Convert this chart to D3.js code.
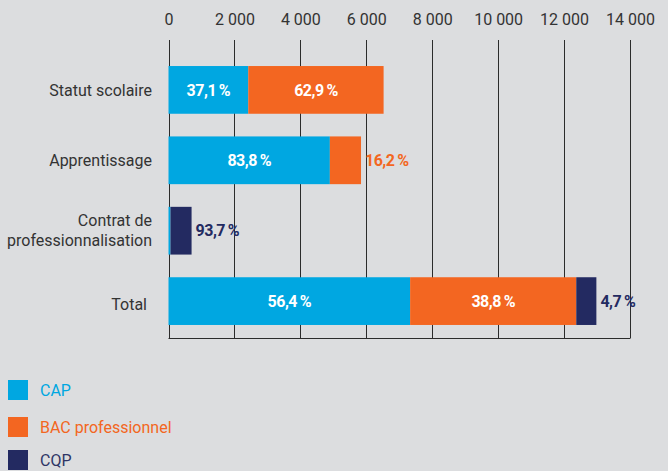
<!DOCTYPE html>
<html><head><meta charset="utf-8">
<script src="https://cdn.jsdelivr.net/npm/d3@7"></script>
<style>
html,body{margin:0;padding:0;background:#dcdddf;}
svg{display:block;font-family:Roboto,"Noto Sans",sans-serif;}
</style></head>
<body>
<svg id="c" width="668" height="471"></svg>
<script>
const categories = ["Statut scolaire", "Apprentissage", "Contrat de\nprofessionnalisation", "Total"];
const seriesNames = ["CAP", "BAC professionnel", "CQP"];
const capValues = [2420, 4895, 60, 7330];
const bacValues = [4105, 945, 0, 5040];
const cqpValues = [0, 0, 640, 610];
const capLabels = ["37,1 %", "83,8 %", "", "56,4 %"];
const bacLabels = ["62,9 %", "16,2 %", "", "38,8 %"];
const cqpLabels = ["", "", "93,7 %", "4,7 %"];
// label placement: "in" = inside white, "out" = right of bar in series colour
const capPlace = ["in", "in", "", "in"];
const bacPlace = ["in", "out", "", "in"];
const cqpPlace = ["", "", "out", "out"];
const tickValues = [0, 2000, 4000, 6000, 8000, 10000, 12000, 14000];
const colors = ["#00a7e1", "#f36621", "#232a61"];

const svg = d3.select("#c");
const x = d3.scaleLinear().domain([0, 14000]).range([168.5, 630]);
const y = d3.scaleBand().domain(categories).range([44.9, 346.1]).paddingInner(0.322).paddingOuter(0.3);

const fmt = v => d3.format(",")(v).replace(/,/g, " ");

// grid lines
svg.append("g").selectAll("line").data(tickValues).join("line")
  .attr("x1", d => Math.round(x(d)) + 0.5).attr("x2", d => Math.round(x(d)) + 0.5)
  .attr("y1", 40).attr("y2", 338)
  .attr("stroke", "#2b2b2b").attr("stroke-width", 1);

// top axis labels
const axis = d3.axisTop(x).tickValues(tickValues).tickFormat(fmt).tickSize(0).tickPadding(0);
const ag = svg.append("g").attr("transform", "translate(0,25)").call(axis);
ag.select(".domain").remove();
ag.selectAll("text").attr("font-size", 16).attr("fill", "#333").attr("font-family", "Roboto");

// bottom line
svg.append("line").attr("x1", x(0)).attr("x2", x(14000) + 0.5).attr("y1", 338.5).attr("y2", 338.5)
  .attr("stroke", "#2b2b2b");

const rows = categories.map((c, i) => ({cat: c, vals: [capValues[i], bacValues[i], cqpValues[i]],
  labels: [capLabels[i], bacLabels[i], cqpLabels[i]], place: [capPlace[i], bacPlace[i], cqpPlace[i]]}));

const segs = [];
rows.forEach(r => {
  let acc = 0;
  r.vals.forEach((v, k) => {
    segs.push({cat: r.cat, k, x0: acc, x1: acc + v, label: r.labels[k], place: r.place[k], total: d3.sum(r.vals)});
    acc += v;
  });
});

svg.append("g").selectAll("rect").data(segs.filter(s => s.x1 > s.x0)).join("rect")
  .attr("x", d => x(d.x0)).attr("width", d => x(d.x1) - x(d.x0))
  .attr("y", d => y(d.cat)).attr("height", y.bandwidth())
  .attr("fill", d => colors[d.k]);

svg.append("g").selectAll("text").data(segs.filter(s => s.label)).join("text")
  .attr("x", d => d.place === "in" ? (x(d.x0) + x(d.x1)) / 2 : x(d.total) + 4)
  .attr("y", d => y(d.cat) + y.bandwidth() / 2)
  .attr("dy", "0.36em")
  .attr("text-anchor", d => d.place === "in" ? "middle" : "start")
  .attr("font-size", 16).attr("font-weight", "bold").attr("letter-spacing", "-0.5")
  .attr("fill", d => d.place === "in" ? "#fff" : colors[d.k])
  .text(d => d.label.replace(" ", "\u2009"));

// category labels
const cl = svg.append("g").selectAll("text").data(categories).join("text")
  .attr("text-anchor", "end").attr("font-size", 16).attr("fill", "#333")
  .attr("x", 152)
  .attr("y", d => y(d) + y.bandwidth() / 2 + (d === "Total" ? 3 : 0));
cl.each(function(d) {
  const lines = d.split("\n");
  const t = d3.select(this);
  lines.forEach((ln, i) => {
    t.append("tspan").attr("x", d === "Total" ? 147 : 152)
      .attr("dy", i === 0 ? ((0.36 - (lines.length - 1) * 0.625) + "em") : "1.25em").text(ln);
  });
});

// legend
const legY = [380, 417, 450];
const lg = svg.append("g").selectAll("g").data(seriesNames).join("g")
  .attr("transform", (d, i) => `translate(8,${legY[i]})`);
lg.append("rect").attr("width", 20).attr("height", 20).attr("fill", (d, i) => colors[i]);
lg.append("text").attr("x", 32).attr("y", 10).attr("dy", "0.36em").attr("font-size", 16)
  .attr("fill", (d, i) => i === 2 ? "#2e3566" : colors[i]).text(d => d);
</script>
</body></html>
